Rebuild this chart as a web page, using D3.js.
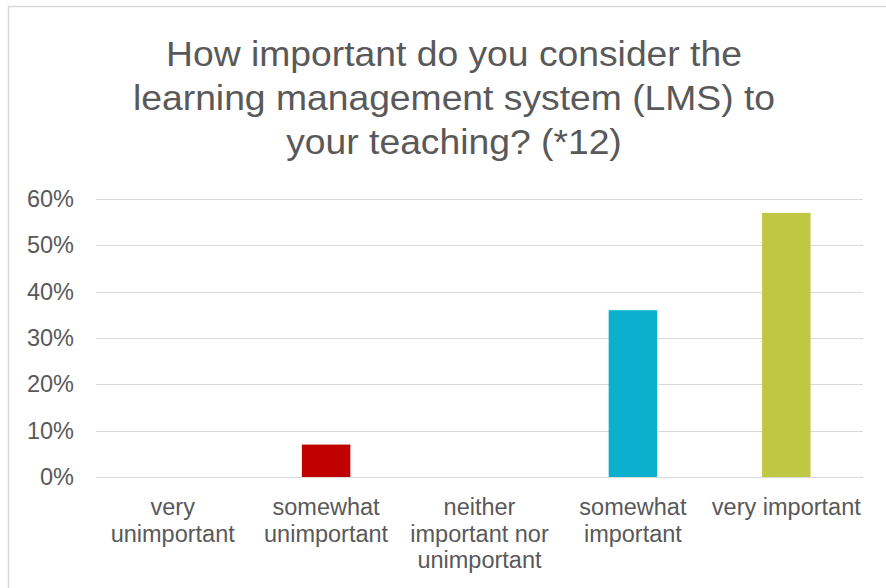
<!DOCTYPE html>
<html>
<head>
<meta charset="utf-8">
<script src="https://cdn.jsdelivr.net/npm/d3@7"></script>
<style>
  body { margin: 0; background: #fff; }
  svg { display: block; font-family: "Liberation Sans", Arial, sans-serif; }
</style>
</head>
<body>
<svg id="chart" width="886" height="588"></svg>
<script>
// data
const categories = ["very unimportant", "somewhat unimportant", "neither important nor unimportant", "somewhat important", "very important"];
const categoryLines = [["very", "unimportant"], ["somewhat", "unimportant"], ["neither", "important nor", "unimportant"], ["somewhat", "important"], ["very important"]];
const values = [0, 0.07, 0, 0.36, 0.57];
const barColors = ["#C00000", "#C00000", "#C00000", "#0CB0CF", "#BFC843"];
const yTicks = [0, 0.1, 0.2, 0.3, 0.4, 0.5, 0.6];
const titleLines = ["How important do you consider the", "learning management system (LMS) to", "your teaching? (*12)"];

const svg = d3.select("#chart");
const textColor = "#595959";
const labelSize = 23.5;

// chart frame (runs off the right and bottom edge)
svg.append("rect")
  .attr("x", 8.5).attr("y", 6.5)
  .attr("width", 900).attr("height", 600)
  .attr("fill", "#fff")
  .attr("stroke", "#d9d9d9")
  .attr("stroke-width", 1.5);

// title, the original glyphs are a bit wider than Liberation Sans
svg.append("text")
  .attr("text-anchor", "middle")
  .attr("fill", textColor)
  .attr("font-size", 35)
  .attr("transform", "translate(454,0) scale(1.065,1)")
  .selectAll("tspan")
  .data(titleLines)
  .join("tspan")
  .attr("x", 0)
  .attr("y", (d, i) => 66.5 + i * 43.7)
  .text(d => d);

const plot = { left: 96, right: 863, top: 199, bottom: 477 };

const x = d3.scaleBand()
  .domain(categories)
  .range([plot.left, plot.right])
  .paddingInner(0.684)
  .paddingOuter(0.342);

const y = d3.scaleLinear()
  .domain([0, 0.6])
  .range([plot.bottom, plot.top]);

// gridlines
svg.append("g")
  .selectAll("line")
  .data(yTicks)
  .join("line")
  .attr("x1", plot.left).attr("x2", plot.right)
  .attr("y1", d => Math.round(y(d)) + 0.5)
  .attr("y2", d => Math.round(y(d)) + 0.5)
  .attr("stroke", "#d9d9d9")
  .attr("stroke-width", 1.2);

// y axis labels
const yAxis = svg.append("g")
  .attr("transform", `translate(${plot.left},0)`)
  .call(d3.axisLeft(y).tickValues(yTicks).tickFormat(d3.format(".0%")).tickSize(0).tickPadding(22));
yAxis.select(".domain").remove();
yAxis.selectAll("text")
  .attr("fill", textColor)
  .attr("font-size", labelSize)
  .attr("font-family", "Liberation Sans, Arial, sans-serif");

// bars
svg.append("g")
  .selectAll("rect")
  .data(values)
  .join("rect")
  .attr("x", (d, i) => x(categories[i]))
  .attr("width", x.bandwidth())
  .attr("y", d => y(d))
  .attr("height", d => y(0) - y(d))
  .attr("fill", (d, i) => barColors[i]);

// x axis labels
svg.append("g")
  .selectAll("text")
  .data(categories)
  .join("text")
  .attr("text-anchor", "middle")
  .attr("fill", textColor)
  .attr("font-size", labelSize)
  .each(function(d, i) {
    const cx = x(d) + x.bandwidth() / 2;
    d3.select(this).selectAll("tspan")
      .data(categoryLines[i])
      .join("tspan")
      .attr("x", cx)
      .attr("y", (l, j) => 515 + j * 26.7)
      .text(l => l);
  });
</script>
</body>
</html>
